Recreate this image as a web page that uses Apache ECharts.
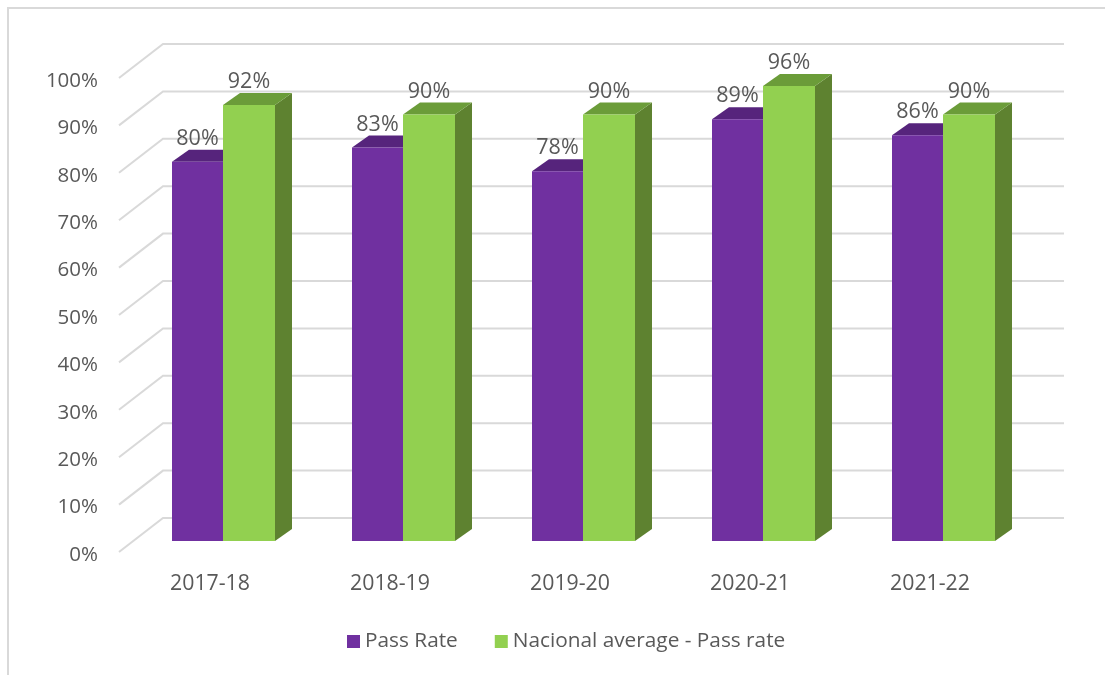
<!DOCTYPE html>
<html lang="en">
  <head>
    <meta charset="UTF-8" />
    <title>Pass rate</title>
    <script src="https://cdn.jsdelivr.net/npm/echarts@6/dist/echarts.min.js"></script>
    <style>
      html, body { margin: 0; padding: 0; background: #fff; }
      .echarts { width: 1105px; height: 675px; }
    </style>
  </head>
  <body>
    <div class="echarts"></div>
    <script>
      const categories = ['2017-18', '2018-19', '2019-20', '2020-21', '2021-22']
      const passRate = [80, 83, 78, 89, 85.6]
      const nationalAverage = [92, 90, 90, 96, 90]
      const yTicks = [0, 10, 20, 30, 40, 50, 60, 70, 80, 90, 100]

      const font = '"Open Sans", sans-serif'
      const textColor = '#595959'
      const gridColor = '#d9d9d9'

      // depth of one bar in the fake 3D view
      const depthX = 17
      const depthY = 12

      function wallLines(params, api) {
        const y = api.coord([0, api.value(1)])[1]
        const left = params.coordSys.x
        return {
          type: 'polyline',
          shape: { points: [[left - 1, y + 11], [left + 43, y - 23], [left + 944, y - 23]] },
          style: { stroke: gridColor, lineWidth: 2, fill: null }
        }
      }

      // from / to: position of the front face, relative to the category centre
      function bar3d(from, to, front, top, side) {
        return function (params, api) {
          const p = api.coord([api.value(0), api.value(1)])
          const base = api.coord([api.value(0), 0])[1]
          const x0 = p[0] + from
          const x1 = p[0] + to
          const y = p[1]
          return {
            type: 'group',
            children: [
              {
                type: 'polygon',
                shape: { points: [[x1, y], [x1 + depthX, y - depthY], [x1 + depthX, base - depthY], [x1, base]] },
                style: { fill: side }
              },
              {
                type: 'polygon',
                shape: { points: [[x0, y], [x1, y], [x1 + depthX, y - depthY], [x0 + depthX, y - depthY]] },
                style: { fill: top }
              },
              {
                type: 'rect',
                shape: { x: x0, y: y, width: to - from, height: base - y },
                style: { fill: front }
              },
              {
                type: 'text',
                x: (x0 + x1) / 2,
                y: y - depthY - 11,
                style: {
                  text: Math.round(api.value(1)) + '%',
                  font: '21.5px ' + font,
                  fill: textColor,
                  align: 'center',
                  verticalAlign: 'middle'
                }
              }
            ]
          }
        }
      }

      const myCharts = echarts.init(document.querySelector('.echarts'))
      const option = {
        animation: false,
        backgroundColor: '#fff',
        grid: { left: 120, right: 85, top: 67, bottom: 134 },
        legend: {
          data: ['Pass Rate', 'Nacional average - Pass rate'],
          left: 342,
          top: 626,
          icon: 'rect',
          itemWidth: 13,
          itemHeight: 13,
          itemGap: 37,
          textStyle: { fontFamily: font, fontSize: 20.8, color: textColor }
        },
        xAxis: {
          type: 'category',
          data: categories,
          axisLine: { show: false },
          axisTick: { show: false },
          axisLabel: { margin: 32, fontFamily: font, fontSize: 21.3, color: textColor }
        },
        yAxis: {
          type: 'value',
          min: 0,
          max: 100,
          interval: 10,
          axisLine: { show: false },
          axisTick: { show: false },
          splitLine: { show: false },
          axisLabel: {
            formatter: '{value}%',
            margin: 22,
            verticalAlign: 'top',
            lineHeight: 28,
            fontFamily: font,
            fontSize: 20.5,
            color: textColor
          }
        },
        series: [
          {
            type: 'custom',
            name: 'grid',
            silent: true,
            renderItem: wallLines,
            data: yTicks.map(t => [0, t]),
            z: 1
          },
          {
            type: 'custom',
            name: 'Pass Rate',
            renderItem: bar3d(-38, 13, '#7030a0', '#56247c', '#4a1f6b'),
            itemStyle: { color: '#7030a0' },
            data: passRate.map((v, i) => [i, v]),
            z: 2
          },
          {
            type: 'custom',
            name: 'Nacional average - Pass rate',
            renderItem: bar3d(13, 65, '#92d050', '#6b9c39', '#5e8230'),
            itemStyle: { color: '#92d050' },
            data: nationalAverage.map((v, i) => [i, v]),
            z: 3
          }
        ],
        graphic: [
          {
            type: 'polyline',
            shape: { points: [[8, 675], [8, 8], [1105, 8]] },
            style: { stroke: gridColor, lineWidth: 2, fill: null },
            silent: true
          }
        ]
      }
      myCharts.setOption(option)
    </script>
  </body>
</html>
